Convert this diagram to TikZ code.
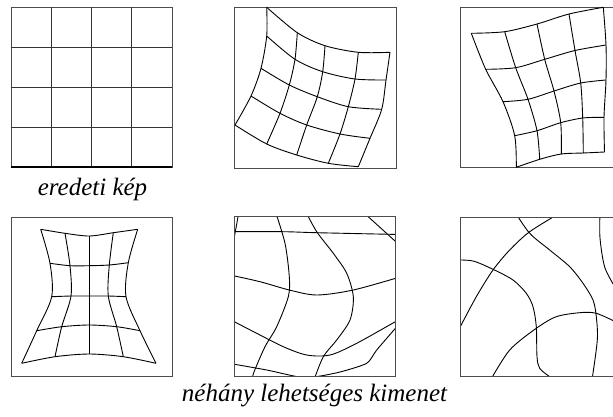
\documentclass[tikz,border=0pt]{standalone}
\usepackage{fontspec}
\setmainfont{Liberation Serif}
\usepackage{tikz}

\begin{document}
\begin{tikzpicture}[
  x=1pt, y=-1pt,
  frame/.style={draw=black!70, line width=1pt},
  mesh/.style={draw=black, line width=0.9pt},
  lbl/.style={anchor=base, inner sep=0pt,
              font=\fontsize{25}{30}\selectfont\itshape},
]
\useasboundingbox (0,0) rectangle (613,416);
\clip (0,0) rectangle (613,416);

% eredeti racs
\draw[frame] (11,7) rectangle (172,167);
\foreach \k in {1,2,3} {
  \draw[black!80, line width=0.9pt] (11+40.25*\k,7) -- (11+40.25*\k,167);
  \draw[black!80, line width=0.9pt] (11,7+40*\k) -- (172,7+40*\k);
}
\draw[black, line width=1.4pt] (11,167) -- (172,167);
\node[lbl] (orig) at (92.5,195) {eredeti kép};

% 2. kep: hajlitott racs
\draw[frame] (234,7) rectangle (396,168);
\coordinate (a00) at (266.7,7.3);  \coordinate (a01) at (297.3,32.7);
\coordinate (a02) at (325,45.7);   \coordinate (a03) at (358.3,52.3);
\coordinate (a04) at (390,52.3);
\coordinate (a10) at (266.7,36);   \coordinate (a11) at (295,59.3);
\coordinate (a12) at (322.7,71.7); \coordinate (a13) at (355,79);
\coordinate (a14) at (386,80);
\coordinate (a20) at (261,68.3);   \coordinate (a21) at (289.3,85);
\coordinate (a22) at (317.3,96.7); \coordinate (a23) at (348.3,106.7);
\coordinate (a24) at (381.7,109.3);
\coordinate (a30) at (251,96);     \coordinate (a31) at (280,113.3);
\coordinate (a32) at (306.7,125);  \coordinate (a33) at (340,134);
\coordinate (a34) at (370,138.3);
\coordinate (a40) at (235,125);    \coordinate (a41) at (266.7,144);
\coordinate (a42) at (296.7,155);  \coordinate (a43) at (328.3,163.3);
\coordinate (a44) at (358.3,166.7);
\foreach \k in {0,...,4} {
  \draw[mesh] plot[smooth] coordinates {(a\k0) (a\k1) (a\k2) (a\k3) (a\k4)};
  \draw[mesh] plot[smooth] coordinates {(a0\k) (a1\k) (a2\k) (a3\k) (a4\k)};
}

% 3. kep
\draw[frame] (460,7) rectangle (621,167.5);
\coordinate (b00) at (471.3,33.3); \coordinate (b01) at (504.7,31.7);
\coordinate (b02) at (537,24);     \coordinate (b03) at (569,14);
\coordinate (b04) at (603.3,7.3);
\coordinate (b10) at (485.7,69.3); \coordinate (b11) at (515.7,67.7);
\coordinate (b12) at (544.7,59.3); \coordinate (b13) at (575,50.5);
\coordinate (b14) at (606,45);
\coordinate (b20) at (503,101.7);  \coordinate (b21) at (528,99.3);
\coordinate (b22) at (554,91);     \coordinate (b23) at (580.7,83);
\coordinate (b24) at (606,80);
\coordinate (b30) at (514.7,135.7); \coordinate (b31) at (537,130.7);
\coordinate (b32) at (560.7,122.7); \coordinate (b33) at (582.7,118);
\coordinate (b34) at (604,117.3);
\coordinate (b40) at (516.3,167.3); \coordinate (b41) at (539.7,159.3);
\coordinate (b42) at (561.3,154);   \coordinate (b43) at (583.3,153);
\coordinate (b44) at (604.5,152);
\foreach \k in {0,...,4} {
  \draw[mesh] plot[smooth] coordinates {(b\k0) (b\k1) (b\k2) (b\k3) (b\k4)};
  \draw[mesh] plot[smooth] coordinates {(b0\k) (b1\k) (b2\k) (b3\k) (b4\k)};
}

% 4. kep: homokora
\draw[frame] (11,217) rectangle (172,376);
\coordinate (c00) at (40.7,229.3); \coordinate (c01) at (65,233.3);
\coordinate (c02) at (89.3,236);   \coordinate (c03) at (113.3,232.7);
\coordinate (c04) at (137.7,229.3);
\coordinate (c10) at (50,263.3);   \coordinate (c11) at (70,265.7);
\coordinate (c12) at (89.3,265.7); \coordinate (c13) at (109.3,265);
\coordinate (c14) at (128.3,262.7);
\coordinate (c20) at (51.7,296.7); \coordinate (c21) at (71,296);
\coordinate (c22) at (89.3,296);   \coordinate (c23) at (108.3,296);
\coordinate (c24) at (126,296.7);
\coordinate (c30) at (36.7,330.7); \coordinate (c31) at (61.7,326.7);
\coordinate (c32) at (89.3,325);   \coordinate (c33) at (116.7,326.7);
\coordinate (c34) at (140,330.7);
\coordinate (c40) at (21.7,363.3); \coordinate (c41) at (55,356.7);
\coordinate (c42) at (89.3,354);   \coordinate (c43) at (123.3,356.7);
\coordinate (c44) at (156,363.3);
\foreach \k in {0,...,4} {
  \draw[mesh] plot[smooth] coordinates {(c\k0) (c\k1) (c\k2) (c\k3) (c\k4)};
  \draw[mesh] plot[smooth] coordinates {(c0\k) (c1\k) (c2\k) (c3\k) (c4\k)};
}

% 5. kep: eros torzitas
\begin{scope}
  \clip (234.3,216) rectangle (395.7,376);
  \draw[mesh] plot[smooth] coordinates {(230,231.7) (283.3,231.7) (316.7,232.7) (400,234.5)};
  \draw[mesh] plot[smooth] coordinates {(238.8,212) (236,228) (234.5,236) (233,246)};
  \draw[mesh] plot[smooth] coordinates {(275.5,212) (285,243.3) (289.3,276.7)
    (288.3,296.7) (276.7,326.7) (265,346.7) (254,372) (252,380)};
  \draw[mesh] plot[smooth] coordinates {(306,212) (316.7,231.7) (333.3,253.3)
    (346.7,273.3) (353.3,296.7) (350,320) (336.7,340) (323.3,356.7) (314,380)};
  \draw[mesh] (363,212) -- (400,245.5);
  \draw[mesh] plot[smooth] coordinates {(230,275) (260,281.7) (289.3,290)
    (316.7,295) (353.3,290) (400,277)};
  \draw[mesh] plot[smooth] coordinates {(230,319.5) (256.7,333.3) (283.3,346.7)
    (306.7,355) (330,355) (356.7,343.3) (400,319)};
  \draw[mesh] plot[smooth, tension=0.4] coordinates {(230,363.5) (266.7,370) (296.7,376.5)
    (315,376.8) (340,372) (366.7,363.3) (376.7,350) (400,323)};
\end{scope}
\draw[frame] (234.3,216) rectangle (395.7,376);

% 6. kep
\begin{scope}
  \clip (460.3,217.3) rectangle (625,376.3);
  \draw[mesh] plot[smooth] coordinates {(515,212) (529.7,233.3) (549.7,250)
    (569.7,266.7) (583,283.3) (593,300) (596.3,316.7) (597.3,340) (592,380)};
  \draw[mesh] plot[smooth] coordinates {(560,213) (529.7,231.7) (509.7,250)
    (493,270) (476.3,296.7) (458,331)};
  \draw[mesh] plot[smooth] coordinates {(455,260) (473,261) (493,269.3) (513,280)
    (526.3,293.3) (533,306.7) (536.3,326.7) (537,356.7) (539.7,368.3) (549.7,376.7) (556,380)};
  \draw[mesh] plot[smooth] coordinates {(490,381) (509.7,350) (536.3,328.3)
    (556.3,316.7) (579.7,312.7) (596.3,313.3) (618,323)};
  \draw[mesh] plot[smooth] coordinates {(600,212) (600,238) (605,268) (618,292)};
\end{scope}
\draw[frame] (460.3,217.3) rectangle (625,376.3);

\node[lbl] (outs) at (314.5,401.5) {néhány lehetséges kimenet};
\end{tikzpicture}
\end{document}
